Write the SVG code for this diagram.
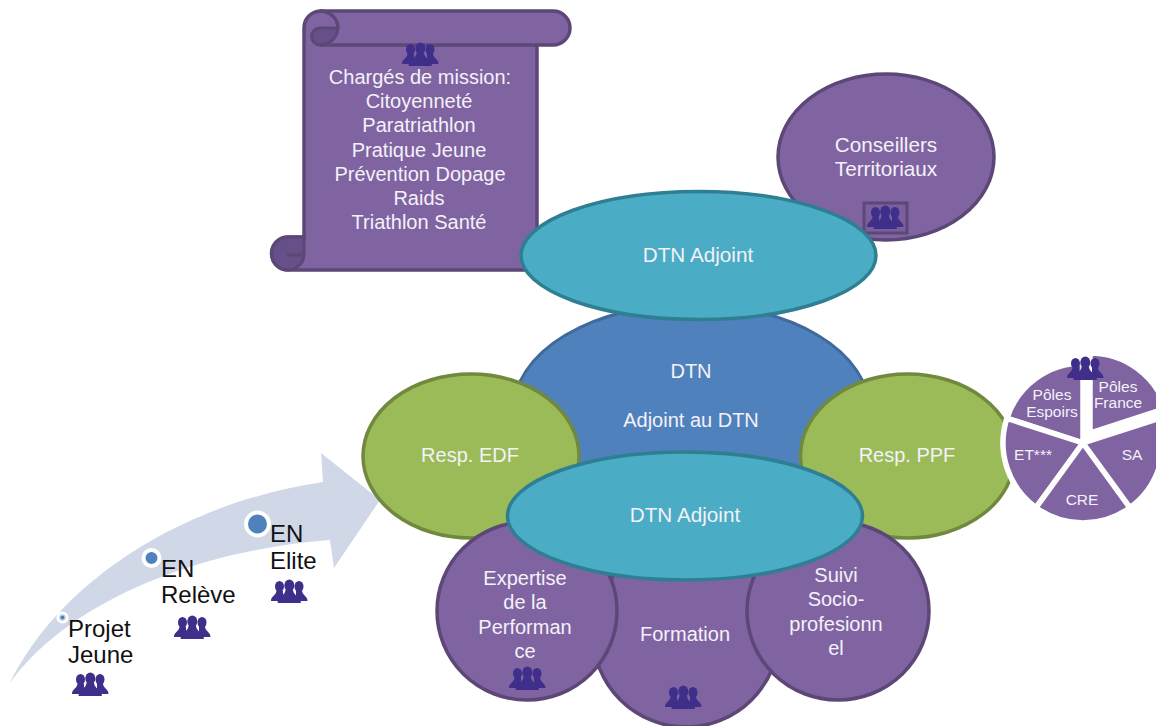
<svg xmlns="http://www.w3.org/2000/svg" width="1156" height="726" viewBox="0 0 1156 726">
<style>
text{font-family:"Liberation Sans",Arial,sans-serif;text-anchor:middle}
.w{fill:#f4f1f8;font-size:20px}
.b{font-size:20.700px}
.k{fill:#111;font-size:24px;text-anchor:start}
.s{fill:#f4f1f8;font-size:15.500px}
.pu{fill:#8064a2;stroke:#5c4776;stroke-width:3.500}
.te{fill:#4bacc6;stroke:#2f7f93;stroke-width:3.500}
.gr{fill:#9bbb59;stroke:#71893f;stroke-width:3.500}
.sl{fill:#8064a2;stroke:#fff;stroke-width:5.500;stroke-linejoin:miter}
.dk{fill:#66508a;stroke:#5c4776;stroke-width:3}
</style>
<defs>
<g id="people" fill="#3f2f8a">
<ellipse cx="8.500" cy="6.500" rx="4.500" ry="5.500"/><ellipse cx="28" cy="6.500" rx="4.500" ry="5.500"/>
<path d="M0 21 C0 16 4.500 16 5.500 11 H12 V21Z"/><path d="M36.500 21 C36.500 16 32 16 31 11 H25 V21Z"/>
<ellipse cx="18.300" cy="5.500" rx="5" ry="6"/>
<path d="M6.500 23 C7 16 14 16 14.500 10 H22 C22.500 16 29.500 16 30 23Z"/>
</g>
</defs>
<g id="arrow">
<path d="M10 683 C55 590 170 505 323 482 L321 453 L380 500 L334 568 L330 540 C200 550 70 600 10 683Z" fill="#d0d8e8"/>
<circle cx="62.500" cy="617.500" r="4.800" fill="#d0d8e8" stroke="#fff" stroke-width="2.500"/>
<circle cx="62.500" cy="617.500" r="2" fill="#4f81bd"/>
<circle cx="151.500" cy="558" r="8" fill="#4f81bd" stroke="#fff" stroke-width="4"/>
<circle cx="257.500" cy="524" r="11.500" fill="#4f81bd" stroke="#fff" stroke-width="4"/>
</g>
<g id="projet-jeune"><text class="k" x="68" y="637">Projet</text><text class="k" x="68" y="663">Jeune</text><use href="#people" x="72" y="673"/></g>
<g id="en-releve"><text class="k" x="161" y="577">EN</text><text class="k" x="161" y="603">Relève</text><use href="#people" x="174" y="616"/></g>
<g id="en-elite"><text class="k" x="270" y="542">EN</text><text class="k" x="270" y="569">Elite</text><use href="#people" x="271" y="580"/></g>

<g id="charges-mission">
<path class="pu" d="M320 11 H553 A17 17 0 0 1 553 45 H537 V270 H288 A16.500 16.500 0 0 1 288 237 H304 V28 A17 17 0 0 1 320 11Z"/>
<path class="dk" d="M320 45 A8.500 8.500 0 0 1 320 28 H338 A18 18 0 0 1 320 45Z"/>
<path d="M320 11 A18 17 0 0 1 338 28 M320 45 H537" fill="none" stroke="#5c4776" stroke-width="3.500"/>
<path class="dk" d="M304 240 V254 A16 16 0 0 1 288 270 A16.500 16.500 0 0 1 288 237 H304Z"/>
<path d="M287 255 H302" fill="none" stroke="#5c4776" stroke-width="3"/>
<use href="#people" x="402" y="43"/>
<text class="w" x="420" y="84">Chargés de mission:</text>
<text class="w" x="419" y="108">Citoyenneté</text>
<text class="w" x="419" y="132">Paratriathlon</text>
<text class="w" x="419" y="157">Pratique Jeune</text>
<text class="w" x="420" y="181">Prévention Dopage</text>
<text class="w" x="419" y="205">Raids</text>
<text class="w" x="419" y="229">Triathlon Santé</text>
</g>

<g id="conseillers">
<ellipse class="pu" cx="886" cy="157" rx="108" ry="83"/>
<text class="w b" x="886" y="152">Conseillers</text><text class="w b" x="886" y="176">Territoriaux</text>
<rect x="864" y="203" width="43" height="30" fill="#7a5f9e" stroke="#5c4776" stroke-width="3"/>
<use href="#people" x="867" y="206"/>
</g>

<g id="dtn">
<ellipse cx="691.500" cy="410" rx="178" ry="106" fill="#4f81bd" stroke="#41699b" stroke-width="3"/>
<text class="w" x="691" y="378">DTN</text><text class="w" x="691" y="427">Adjoint au DTN</text>
</g>
<g id="dtn-adjoint-top">
<ellipse class="te" cx="698.500" cy="255.500" rx="177.500" ry="64"/>
<text class="w b" x="698" y="262">DTN Adjoint</text>
</g>
<g id="resp-edf">
<ellipse class="gr" cx="471" cy="456" rx="108" ry="82"/>
<text class="w" x="470" y="462">Resp. EDF</text>
</g>
<g id="resp-ppf">
<ellipse class="gr" cx="907.500" cy="456" rx="107" ry="82"/>
<text class="w" x="907" y="462">Resp. PPF</text>
</g>

<g id="formation">
<circle class="pu" cx="686" cy="634" r="93"/>
<text class="w" x="685" y="641">Formation</text>
<use href="#people" x="665" y="686"/>
</g>
<g id="expertise">
<ellipse class="pu" cx="527" cy="611" rx="90" ry="89"/>
<text class="w" x="525" y="585">Expertise</text><text class="w" x="525" y="609">de la</text><text class="w" x="525" y="634">Performan</text><text class="w" x="525" y="658">ce</text>
<use href="#people" x="509" y="667"/>
</g>
<g id="suivi">
<ellipse class="pu" cx="838" cy="611" rx="91" ry="89"/>
<text class="w" x="836" y="582">Suivi</text><text class="w" x="836" y="606">Socio-</text><text class="w" x="836" y="631">profesionn</text><text class="w" x="836" y="655">el</text>
</g>
<g id="dtn-adjoint-bottom">
<ellipse class="te" cx="685" cy="516" rx="177.500" ry="64"/>
<text class="w b" x="685" y="522">DTN Adjoint</text>
</g>

<g id="poles">
<path class="sl" d="M1083 443 L1006.900 418.300 A80 80 0 0 1 1083 363Z"/>
<path class="sl" d="M1083 443 L1036 507.700 A80 80 0 0 1 1006.900 418.300Z"/>
<path class="sl" d="M1083 443 L1130 507.700 A80 80 0 0 1 1036 507.700Z"/>
<path class="sl" d="M1083 443 L1159.100 418.300 A80 80 0 0 1 1130 507.700Z"/>
<path class="sl" d="M1090 433 V353 A80 80 0 0 1 1166.100 408.300Z"/>
<use href="#people" x="1067" y="357"/>
<text class="s" x="1052" y="400">Pôles</text><text class="s" x="1052" y="417">Espoirs</text>
<text class="s" x="1118" y="392">Pôles</text><text class="s" x="1118" y="408">France</text>
<text class="s" x="1033" y="460">ET***</text>
<text class="s" x="1132" y="460">SA</text>
<text class="s" x="1082" y="505">CRE</text>
</g>
</svg>
